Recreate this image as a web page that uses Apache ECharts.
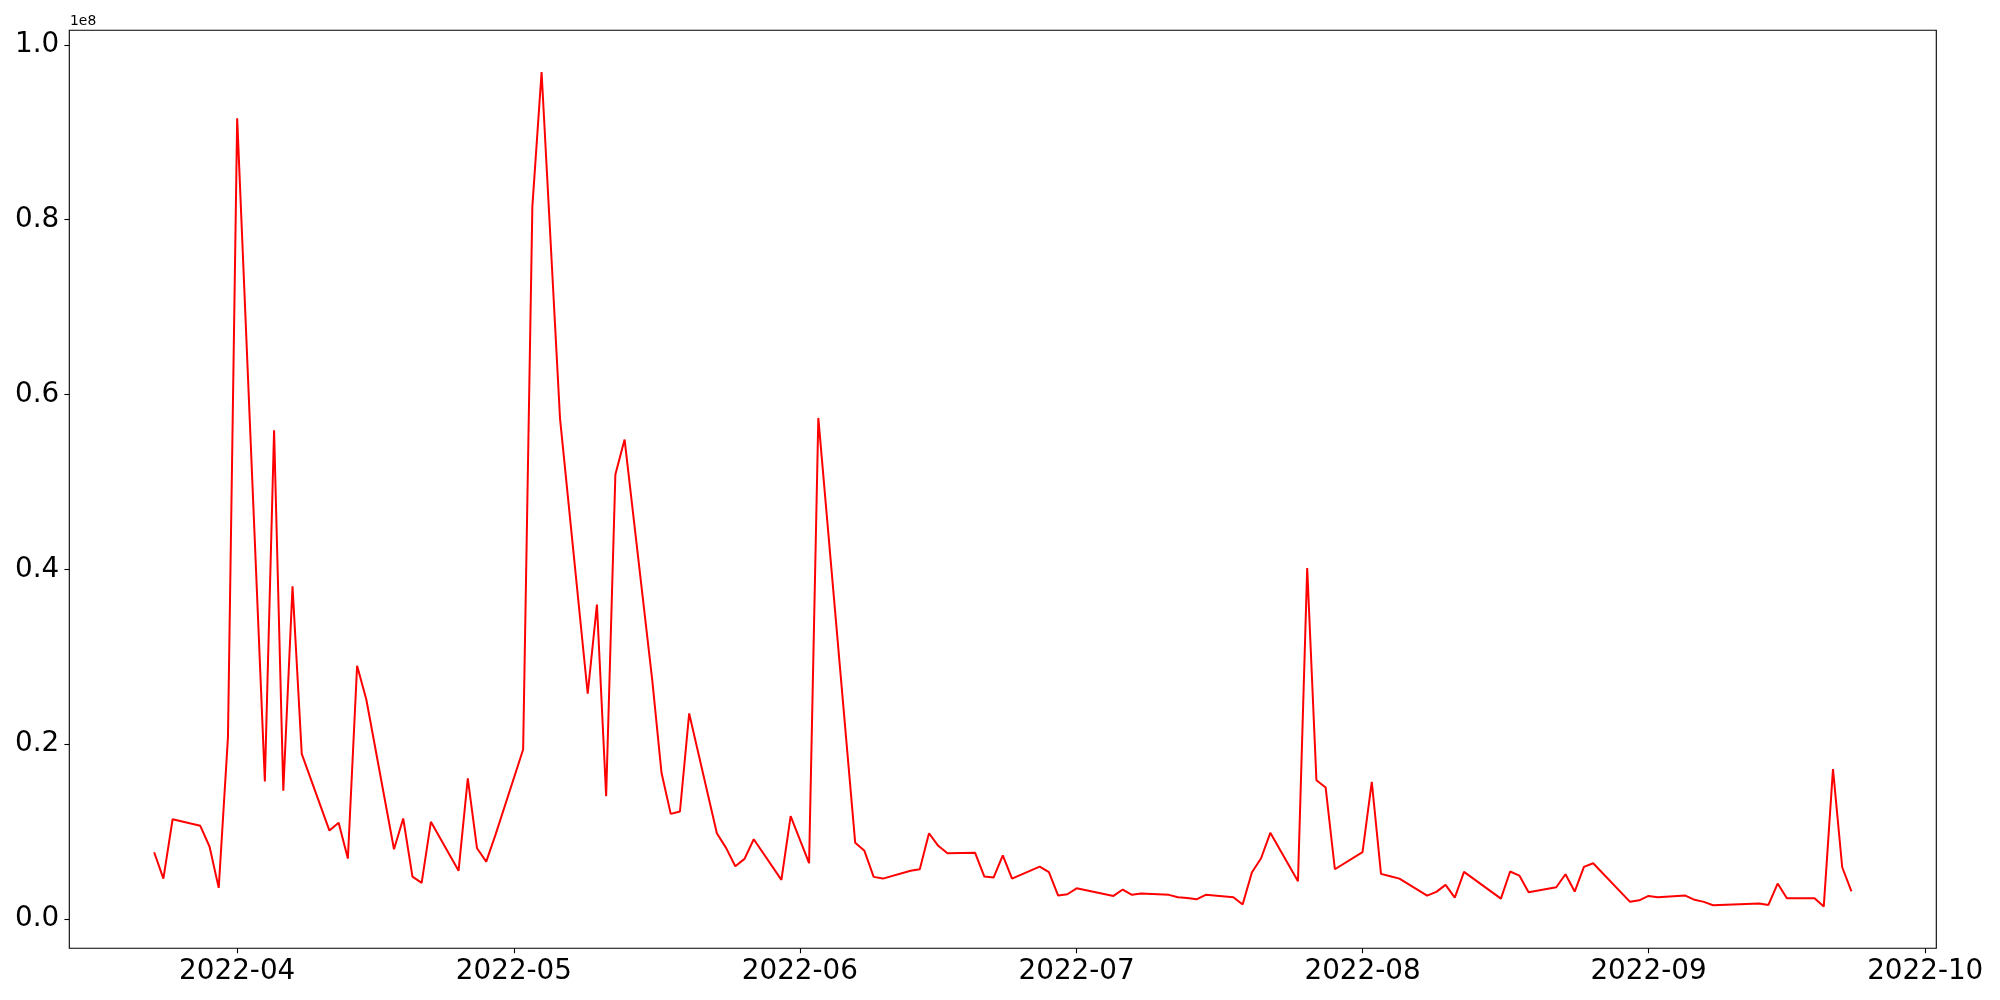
<!DOCTYPE html>
<html>
<head>
<meta charset="utf-8">
<script src="https://cdn.jsdelivr.net/npm/echarts@6/dist/echarts.min.js"></script>
<style>
html,body{margin:0;padding:0;background:#fff;}
#chart{width:2000px;height:1000px;}
</style>
</head>
<body>
<div id="chart"></div>
<script>
const dates = [
 '2022-03-23','2022-03-24','2022-03-25','2022-03-28','2022-03-29','2022-03-30','2022-03-31',
 '2022-04-01','2022-04-04','2022-04-05','2022-04-06','2022-04-07','2022-04-08',
 '2022-04-11','2022-04-12','2022-04-13','2022-04-14','2022-04-15',
 '2022-04-18','2022-04-19','2022-04-20','2022-04-21','2022-04-22',
 '2022-04-25','2022-04-26','2022-04-27','2022-04-28','2022-04-29',
 '2022-05-02','2022-05-03','2022-05-04','2022-05-06',
 '2022-05-09','2022-05-10','2022-05-11','2022-05-12','2022-05-13',
 '2022-05-16','2022-05-17','2022-05-18','2022-05-19','2022-05-20',
 '2022-05-23','2022-05-24','2022-05-25','2022-05-26','2022-05-27',
 '2022-05-30','2022-05-31','2022-06-02','2022-06-03',
 '2022-06-07','2022-06-08','2022-06-09','2022-06-10',
 '2022-06-13','2022-06-14','2022-06-15','2022-06-16','2022-06-17',
 '2022-06-20','2022-06-21','2022-06-22','2022-06-23','2022-06-24',
 '2022-06-27','2022-06-28','2022-06-29','2022-06-30','2022-07-01',
 '2022-07-05','2022-07-06','2022-07-07','2022-07-08',
 '2022-07-11','2022-07-12','2022-07-13','2022-07-14','2022-07-15',
 '2022-07-18','2022-07-19','2022-07-20','2022-07-21','2022-07-22',
 '2022-07-25','2022-07-26','2022-07-27','2022-07-28','2022-07-29',
 '2022-08-01','2022-08-02','2022-08-03','2022-08-04','2022-08-05',
 '2022-08-08','2022-08-09','2022-08-10','2022-08-11','2022-08-12',
 '2022-08-16','2022-08-17','2022-08-18','2022-08-19',
 '2022-08-22','2022-08-23','2022-08-24','2022-08-25','2022-08-26',
 '2022-08-30','2022-08-31','2022-09-01','2022-09-02',
 '2022-09-05','2022-09-06','2022-09-07','2022-09-08',
 '2022-09-13','2022-09-14','2022-09-15','2022-09-16',
 '2022-09-19','2022-09-20','2022-09-21','2022-09-22','2022-09-23'
];
const volumes = [
 7630000,4610000,11400000,10650000,8280000,3550000,20790000,
 91600000,15720000,55900000,14660000,38050000,18890000,
 10110000,10990000,6900000,28970000,25110000,
 7970000,11490000,4840000,4120000,11110000,
 5500000,16070000,8080000,6560000,9620000,
 19390000,81500000,96900000,57250000,
 25760000,35960000,14040000,50840000,54850000,
 27290000,16720000,12020000,12290000,23510000,
 9800000,8130000,6020000,6870000,9110000,
 4470000,11750000,6370000,57320000,
 8700000,7790000,4810000,4610000,
 5500000,5680000,9800000,8360000,7510000,
 7560000,4840000,4730000,7280000,4610000,
 5990000,5340000,2670000,2820000,3500000,
 2630000,3360000,2750000,2900000,
 2750000,2470000,2400000,2240000,2750000,
 2470000,1640000,5300000,6940000,9850000,
 4310000,40150000,15870000,15030000,5680000,
 7630000,15690000,5150000,4880000,4610000,
 2670000,3090000,3890000,2440000,5380000,
 2320000,5420000,4960000,3050000,
 3620000,5110000,3130000,5950000,6370000,
 1950000,2130000,2630000,2470000,
 2670000,2180000,1950000,1560000,
 1750000,1600000,4040000,2360000,
 2360000,1410000,17130000,5910000,3160000
];
const monthTicks = ['2022-04','2022-05','2022-06','2022-07','2022-08','2022-09','2022-10'];
const yTicks = [0, 0.2, 0.4, 0.6, 0.8, 1.0];
const yScale = 1e8;

function toTs(s){
  const p = s.split('-').map(Number);
  return Date.UTC(p[0], p[1]-1, p[2] || 1);
}
const firstTs = toTs(dates[0]);
const lastTs = toTs(dates[dates.length-1]);
const xPad = (lastTs - firstTs) * 0.05;
const yMinData = Math.min(...volumes), yMaxData = Math.max(...volumes);
const yPad = (yMaxData - yMinData) * 0.05;

const seriesData = dates.map((d,i)=>[toTs(d), volumes[i]]);
const monthTickVals = monthTicks.map(toTs);
const labelMap = {};
monthTicks.forEach((m,i)=>{labelMap[monthTickVals[i]] = m;});

const FONT = 'DejaVu Sans';
const chart = echarts.init(document.getElementById('chart'), null, {renderer:'canvas'});
chart.setOption({
  animation: false,
  backgroundColor: '#ffffff',
  title: {
    text: '1e8', left: 65, top: 9,
    textStyle: {fontFamily: FONT, fontSize: 13.9, fontWeight: 'normal', color: '#000'}
  },
  grid: {
    left: 69.3, right: 63.7, top: 30.3, bottom: 51.7,
    show: true, borderColor: '#000', borderWidth: 1.1, backgroundColor: 'transparent'
  },
  xAxis: {
    type: 'value',
    position: 'bottom',
    min: firstTs - xPad,
    max: lastTs + xPad,
    splitLine: {show: false},
    axisLine: {show: false, onZero: false},
    axisTick: {show: true, inside: false, length: 4.9, lineStyle: {color: '#000', width: 1.1}, customValues: monthTickVals},
    axisLabel: {
      show: true, margin: 9, color: '#000', fontFamily: FONT, fontSize: 27.8,
      customValues: monthTickVals,
      formatter: function(v){ return labelMap[v] !== undefined ? labelMap[v] : ''; }
    }
  },
  yAxis: {
    type: 'value',
    position: 'left',
    min: yMinData - yPad,
    max: yMaxData + yPad,
    splitLine: {show: false},
    axisLine: {show: false, onZero: false},
    axisTick: {show: true, inside: false, length: 4.9, lineStyle: {color: '#000', width: 1.1}, customValues: yTicks.map(t=>t*yScale)},
    axisLabel: {
      show: true, margin: 10, color: '#000', fontFamily: FONT, fontSize: 27.8,
      padding: [4, 0, 0, 0],
      customValues: yTicks.map(t=>t*yScale),
      formatter: function(v){ return (v / yScale).toFixed(1); }
    }
  },
  series: [{
    type: 'line',
    data: seriesData,
    showSymbol: false,
    symbol: 'none',
    lineStyle: {color: '#ff0000', width: 2},
    itemStyle: {color: '#ff0000'},
    emphasis: {disabled: true}
  }]
});
</script>
</body>
</html>
